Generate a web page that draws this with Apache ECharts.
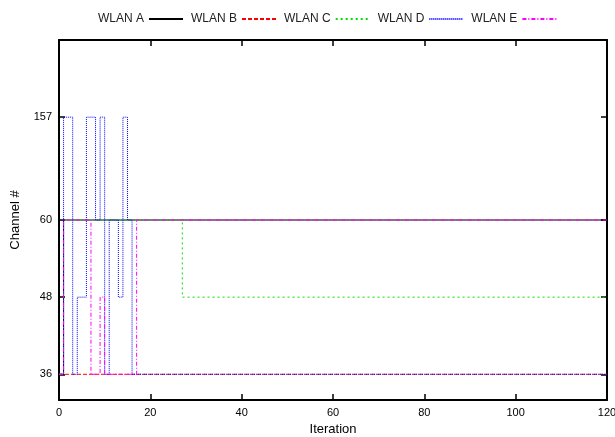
<!DOCTYPE html>
<html><head><meta charset="utf-8">
<script src="https://cdn.jsdelivr.net/npm/echarts@6/dist/echarts.min.js"></script>
<style>html,body{margin:0;padding:0;background:#fff}#c{width:615px;height:437px}</style>
</head><body><div id="c"></div>
<script>
// 5 GHz channel order used for the (ordinal) y scale
const channelOrder = [36, 40, 44, 48, 52, 56, 60, 64, 149, 153, 157];
const yTickChannels = [36, 48, 60, 157];
const xTicks = [0, 20, 40, 60, 80, 100, 120];
const seriesNames = ['WLAN A', 'WLAN B', 'WLAN C', 'WLAN D', 'WLAN E'];
// [iteration, channel] change points (step plot)
const wlanA = [[0, 36], [1, 60], [120, 60]];
const wlanB = [[0, 36], [120, 36]];
const wlanC = [[0, 36], [1, 60], [27, 48], [120, 48]];
const wlanD = [[0, 36], [1, 157], [3, 36], [4, 48], [6, 157], [8, 60], [9, 157], [10, 36], [11, 60], [13, 48], [14, 157], [15, 60], [16, 36], [120, 36]];
const wlanE = [[0, 36], [1, 60], [7, 36], [9, 48], [10, 36], [17, 60], [120, 60]];

const seriesData = [wlanA, wlanB, wlanC, wlanD, wlanE];
const colors = ['#000000', '#ff0000', '#00e000', '#0000ff', '#ff00ff'];
const dashes = ['solid', [4, 2], [2, 3], [1, 1], [4, 2, 1, 2]];

const toIdx = ch => channelOrder.indexOf(ch);
const yTickIdx = yTickChannels.map(toIdx);

const font = 'Liberation Sans, Arial, Helvetica, sans-serif';
const axisLineStyle = { color: '#000', width: 2 };
const tickStyle = { color: '#000', width: 1.5 };

const chart = echarts.init(document.getElementById('c'), null, { renderer: 'canvas' });
chart.setOption({
  animation: false,
  backgroundColor: '#fff',
  textStyle: { fontFamily: font },
  legend: {
    left: 93, top: 8,
    align: 'right',
    itemWidth: 34, itemHeight: 10, itemGap: 7,
    itemStyle: { opacity: 0 },
    lineStyle: { opacity: 1 },
    textStyle: { fontSize: 12, color: '#222', fontFamily: font },
    data: seriesNames
  },
  grid: { left: 59, right: 8, top: 40, bottom: 37, containLabel: false, outerBoundsMode: 'none' },
  xAxis: [{
    type: 'value', min: 0, max: 120, interval: 20,
    name: 'Iteration', nameLocation: 'middle', nameGap: 16,
    nameTextStyle: { fontSize: 13, color: '#000', fontFamily: font },
    axisLine: { show: true, onZero: false, lineStyle: axisLineStyle },
    axisTick: { show: true, inside: true, length: 6, lineStyle: tickStyle },
    axisLabel: { fontSize: 11, color: '#000', margin: 7, fontFamily: font, showMaxLabel: true },
    splitLine: { show: false }
  }, {
    type: 'value', min: 0, max: 120, interval: 20, position: 'top',
    axisLine: { show: true, onZero: false, lineStyle: axisLineStyle },
    axisTick: { show: true, inside: true, length: 6, lineStyle: tickStyle },
    axisLabel: { show: false },
    splitLine: { show: false }
  }],
  yAxis: [{
    type: 'value', min: -1, max: 13,
    name: 'Channel #', nameLocation: 'middle', nameGap: 37,
    nameTextStyle: { fontSize: 13, color: '#000', fontFamily: font },
    axisLine: { show: true, onZero: false, lineStyle: axisLineStyle },
    axisTick: { show: true, inside: true, length: 6, customValues: yTickIdx, lineStyle: tickStyle },
    axisLabel: { fontSize: 11, color: '#000', margin: 7, fontFamily: font, customValues: yTickIdx,
      formatter: v => String(channelOrder[Math.round(v)]) },
    splitLine: { show: false }
  }, {
    type: 'value', min: -1, max: 13, position: 'right',
    axisLine: { show: true, onZero: false, lineStyle: axisLineStyle },
    axisTick: { show: true, inside: true, length: 6, customValues: yTickIdx, lineStyle: tickStyle },
    axisLabel: { show: false },
    splitLine: { show: false }
  }],
  series: seriesNames.map((name, i) => ({
    name, type: 'line', step: 'end', symbol: 'none', showSymbol: false,
    xAxisIndex: 0, yAxisIndex: 0,
    color: colors[i],
    lineStyle: { color: colors[i], width: 1, type: dashes[i] },
    data: seriesData[i].map(([x, ch]) => [x, toIdx(ch)]),
    z: 2 + i
  }))
});
</script></body></html>
